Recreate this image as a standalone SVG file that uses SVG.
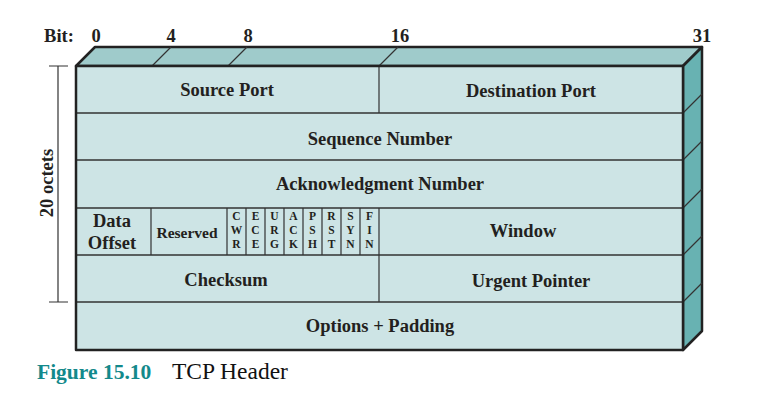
<svg xmlns="http://www.w3.org/2000/svg" width="757" height="402" viewBox="0 0 757 402">
<style>
.lbl{font-family:"Liberation Serif","Times New Roman",serif;font-weight:bold;font-size:18.5px;fill:#231f20;text-anchor:middle}
.sm{font-size:15.5px}
.flag{font-family:"Liberation Serif","Times New Roman",serif;font-weight:bold;font-size:11.5px;fill:#231f20;text-anchor:middle}
.div{stroke:#333;stroke-width:1.5;fill:none}
.thin{stroke:#333;stroke-width:1.2;fill:none}
.edge{stroke:#222;stroke-width:2.5;stroke-linejoin:round}
</style>
<rect width="757" height="402" fill="#ffffff"/>
<g id="box">
<polygon points="76,66 95,47 702,47 683,66" fill="#9fcbcb" class="edge"/>
<polygon points="683,66 702,47 702,331 683,350" fill="#68b2b2" class="edge"/>
<rect x="76" y="66" width="607" height="284" fill="#cde4e5"/>
</g>
<g id="grid">
<path class="div" d="M76,113H683M76,160H683M76,208H683M76,255H683M76,302H683"/>
<path class="thin" d="M379,66V113M379,208V302M151,208V255M227,208V255M246,208V255M265,208V255M284,208V255M303,208V255M322,208V255M341,208V255M360,208V255"/>
<path class="thin" d="M152,66L171,47M228,66L247,47M379,66L398,47"/>
<path class="thin" d="M683,113L702,94M683,160L702,141M683,208L702,189M683,255L702,236M683,302L702,283"/>
</g>
<rect x="76" y="66" width="607" height="284" fill="none" class="edge"/>
<g id="bits">
<text class="lbl" x="59" y="42">Bit:</text>
<text class="lbl" x="96" y="42">0</text>
<text class="lbl" x="171" y="42">4</text>
<text class="lbl" x="248" y="42">8</text>
<text class="lbl" x="400" y="42">16</text>
<text class="lbl" x="702" y="42">31</text>
</g>
<g id="source-port"><text class="lbl" x="227" y="96">Source Port</text></g>
<g id="destination-port"><text class="lbl" x="531" y="97">Destination Port</text></g>
<g id="sequence-number"><text class="lbl" x="380" y="145">Sequence Number</text></g>
<g id="ack-number"><text class="lbl" x="380" y="190">Acknowledgment Number</text></g>
<g id="data-offset"><text class="lbl" x="112" y="227">Data</text><text class="lbl" x="112" y="249">Offset</text></g>
<g id="reserved"><text class="lbl sm" x="187" y="238">Reserved</text></g>
<g id="flags">
<text class="flag" x="236.5" y="220">C</text><text class="flag" x="236.5" y="234">W</text><text class="flag" x="236.5" y="248">R</text>
<text class="flag" x="255.5" y="220">E</text><text class="flag" x="255.5" y="234">C</text><text class="flag" x="255.5" y="248">E</text>
<text class="flag" x="274.5" y="220">U</text><text class="flag" x="274.5" y="234">R</text><text class="flag" x="274.5" y="248">G</text>
<text class="flag" x="293.5" y="220">A</text><text class="flag" x="293.5" y="234">C</text><text class="flag" x="293.5" y="248">K</text>
<text class="flag" x="312.5" y="220">P</text><text class="flag" x="312.5" y="234">S</text><text class="flag" x="312.5" y="248">H</text>
<text class="flag" x="331.5" y="220">R</text><text class="flag" x="331.5" y="234">S</text><text class="flag" x="331.5" y="248">T</text>
<text class="flag" x="350.5" y="220">S</text><text class="flag" x="350.5" y="234">Y</text><text class="flag" x="350.5" y="248">N</text>
<text class="flag" x="369.5" y="220">F</text><text class="flag" x="369.5" y="234">I</text><text class="flag" x="369.5" y="248">N</text>
</g>
<g id="window"><text class="lbl" x="523" y="237">Window</text></g>
<g id="checksum"><text class="lbl" x="226" y="286">Checksum</text></g>
<g id="urgent-pointer"><text class="lbl" x="531" y="287">Urgent Pointer</text></g>
<g id="options-padding"><text class="lbl" x="380" y="332">Options + Padding</text></g>
<g id="connectors">
<path d="M58,66V302M49,66H68M49,302H68" stroke="#333" stroke-width="1.2" fill="none"/>
<text class="lbl" transform="translate(53,183) rotate(-90)" x="0" y="0">20 octets</text>
</g>
<g id="caption">
<text x="37" y="379" font-family="'Liberation Serif','Times New Roman',serif" font-weight="bold" font-size="21.5" fill="#13898b">Figure 15.10</text>
<text x="172" y="379" font-family="'Liberation Serif','Times New Roman',serif" font-size="23.5" fill="#111">TCP Header</text>
</g>
</svg>
